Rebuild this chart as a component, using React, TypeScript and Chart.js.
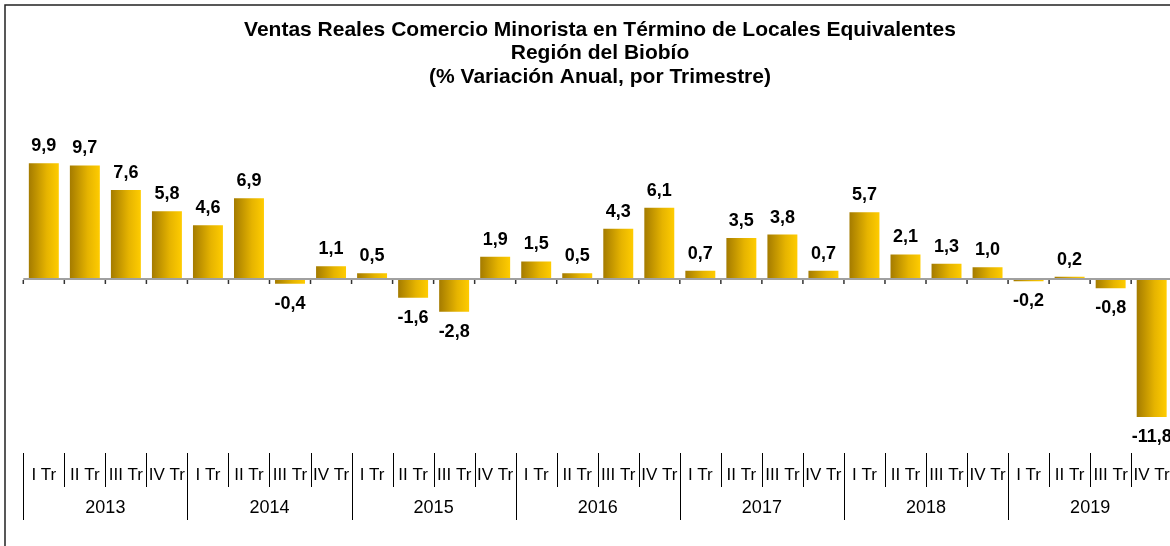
import React, { useEffect, useRef } from "react";
import { Chart, registerables } from "chart.js";

Chart.register(...registerables);

const titleLines = [
  "Ventas Reales Comercio Minorista en Término de Locales Equivalentes",
  "Región del Biobío",
  "(% Variación Anual, por Trimestre)",
];
const years = ["2013", "2014", "2015", "2016", "2017", "2018", "2019"];
const quarters = ["I Tr", "II Tr", "III Tr", "IV Tr"];
const values = [
  9.9, 9.7, 7.6, 5.8,
  4.6, 6.9, -0.4, 1.1,
  0.5, -1.6, -2.8, 1.9,
  1.5, 0.5, 4.3, 6.1,
  0.7, 3.5, 3.8, 0.7,
  5.7, 2.1, 1.3, 1.0,
  -0.2, 0.2, -0.8, -11.8,
];
const labels = years.flatMap((y) => quarters.map((q) => `${q} ${y}`));

const FONT = "'Liberation Sans', Arial, sans-serif";

const decor = {
  id: "decor",
  afterDraw(chart: any) {
    const { ctx, chartArea, scales } = chart;
    const xs = scales.x;
    const ys = scales.y;
    const n = values.length;
    const w = (chartArea.right - chartArea.left) / n;
    const y0 = ys.getPixelForValue(0);
    ctx.save();
    // frame
    ctx.strokeStyle = "#222";
    ctx.lineWidth = 1.5;
    ctx.strokeRect(5, 5, 1190, 600);
    // title
    ctx.fillStyle = "#000";
    ctx.font = `bold 21px ${FONT}`;
    ctx.textAlign = "center";
    ctx.textBaseline = "middle";
    titleLines.forEach((t, i) => ctx.fillText(t, 600, 30 + i * 23.5));
    // zero line
    ctx.strokeStyle = "#a0a0a0";
    ctx.lineWidth = 2;
    ctx.beginPath();
    ctx.moveTo(chartArea.left, y0);
    ctx.lineTo(chartArea.right, y0);
    ctx.stroke();
    // ticks
    ctx.strokeStyle = "#333";
    ctx.lineWidth = 1.5;
    for (let i = 0; i <= n; i++) {
      const x = chartArea.left + i * w;
      ctx.beginPath();
      ctx.moveTo(x, y0 + 1);
      ctx.lineTo(x, y0 + 5);
      ctx.stroke();
    }
    // data labels
    ctx.fillStyle = "#000";
    ctx.font = `bold 18px ${FONT}`;
    values.forEach((v, i) => {
      const x = xs.getPixelForValue(i);
      const y = ys.getPixelForValue(v);
      const txt = v.toFixed(1).replace(".", ",");
      ctx.fillText(txt, x, v >= 0 ? y - 17 : y + 20);
    });
    // bottom category labels
    ctx.strokeStyle = "#000";
    ctx.lineWidth = 1;
    for (let i = 0; i <= n; i++) {
      const x = Math.round(chartArea.left + i * w) + 0.5;
      const isYear = i % 4 === 0;
      ctx.beginPath();
      ctx.moveTo(x, 453);
      ctx.lineTo(x, isYear ? 520 : 487);
      ctx.stroke();
    }
    ctx.font = `17px ${FONT}`;
    for (let i = 0; i < n; i++) {
      const x = chartArea.left + (i + 0.5) * w;
      ctx.fillText(quarters[i % 4], x, 475);
    }
    ctx.font = `18px ${FONT}`;
    years.forEach((y, j) => {
      const x = chartArea.left + (j * 4 + 2) * w;
      ctx.fillText(y, x, 508);
    });
    ctx.restore();
  },
};

export default function App() {
  const ref = useRef<HTMLCanvasElement>(null);
  useEffect(() => {
    if (!ref.current) return;
    const chart = new Chart(ref.current, {
      type: "bar",
      data: {
        labels,
        datasets: [
          {
            data: values,
            backgroundColor: (c: any) => {
              const ch = c.chart;
              if (!ch.chartArea || !ch.scales.x) return "#e0b000";
              const x = ch.scales.x.getPixelForValue(c.dataIndex);
              const g = ch.ctx.createLinearGradient(x - 15, 0, x + 15, 0);
              g.addColorStop(0, "#a47b00");
              g.addColorStop(0.6, "#e6b400");
              g.addColorStop(1, "#ffcc00");
              return g;
            },
            borderWidth: 0,
            barPercentage: 0.73,
            categoryPercentage: 1,
          },
        ],
      },
      options: {
        responsive: false,
        animation: false,
        devicePixelRatio: 1,
        layout: { padding: { left: 23.3, right: 27.8, top: 138.6, bottom: 103.2 } },
        plugins: { legend: { display: false }, title: { display: false }, tooltip: { enabled: false } },
        scales: {
          x: { display: false, offset: true },
          y: { display: false, min: -14, max: 12 },
        },
      },
      plugins: [decor],
    });
    return () => chart.destroy();
  }, []);
  return (
    <div style={{ position: "fixed", left: 0, top: 0, width: 1170, height: 546, overflow: "hidden", background: "#fff" }}>
      <canvas ref={ref} width={1200} height={546} style={{ display: "block" }} />
    </div>
  );
}
